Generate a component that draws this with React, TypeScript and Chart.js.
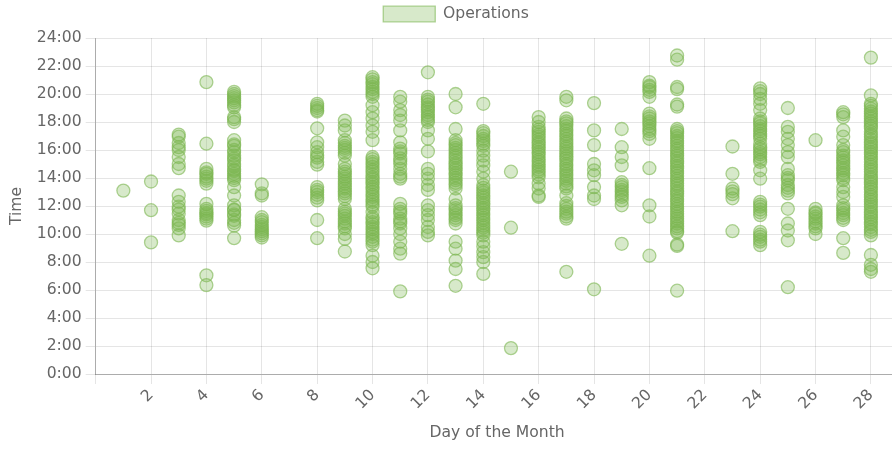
import React, { useEffect, useRef } from "react";
import { Chart, registerables } from "chart.js";

Chart.register(...registerables);

const seriesLabel = "Operations";
const xTitle = "Day of the Month";
const yTitle = "Time";

const day01 = [13.1];
const day02 = [13.75, 11.7, 9.4];
const day03 = [17.1, 16.95, 16.5, 16.2, 16.0, 15.5, 15.0, 14.7, 12.75, 12.3, 11.95, 11.75, 11.45, 11.0, 10.8, 10.65, 10.4, 9.9];
const day04 = [20.85, 16.45, 14.65, 14.4, 14.3, 14.1, 13.95, 13.8, 13.6, 12.15, 11.8, 11.65, 11.5, 11.4, 11.25, 11.1, 10.95, 7.05, 6.35];
const day05 = [20.15, 20.0, 19.85, 19.7, 19.55, 19.4, 19.2, 19.05, 18.35, 18.2, 18.0, 16.7, 16.4, 16.3, 16.0, 15.85, 15.6, 15.4, 15.25, 15.0, 14.85, 14.6, 14.5, 14.3, 14.15, 14.0, 13.85, 13.35, 12.75, 12.05, 11.75, 11.7, 11.4, 11.3, 11.0, 10.8, 10.6, 9.7];
const day06 = [13.55, 12.9, 12.75, 11.2, 11.0, 10.85, 10.65, 10.5, 10.35, 10.2, 10.05, 9.9, 9.75];
const day08 = [19.3, 19.15, 19.0, 18.85, 18.75, 17.55, 16.55, 16.2, 15.85, 15.6, 15.45, 15.15, 14.95, 13.35, 13.15, 13.0, 12.8, 12.6, 12.4, 11.0, 9.7];
const day09 = [18.1, 17.75, 17.4, 16.7, 16.5, 16.3, 16.15, 16.0, 15.8, 15.6, 15.0, 14.65, 14.45, 14.3, 14.1, 13.95, 13.75, 13.6, 13.4, 13.25, 13.05, 12.9, 12.7, 12.5, 11.8, 11.6, 11.45, 11.3, 11.1, 10.9, 10.75, 10.55, 10.4, 10.0, 9.65, 8.75];
const day10 = [21.2, 21.05, 20.85, 20.7, 20.5, 20.35, 20.15, 20.0, 19.8, 19.2, 18.7, 18.25, 17.75, 17.3, 16.7, 15.5, 15.35, 15.15, 15.0, 14.8, 14.6, 14.45, 14.25, 14.05, 13.9, 13.7, 13.55, 13.35, 13.2, 13.0, 12.8, 12.65, 12.45, 12.3, 12.1, 11.95, 11.55, 11.2, 11.05, 10.85, 10.7, 10.5, 10.35, 10.15, 10.0, 9.8, 9.6, 9.45, 9.2, 8.45, 8.0, 7.55];
const day11 = [19.8, 19.45, 18.85, 18.5, 18.1, 17.4, 16.55, 16.1, 15.9, 15.75, 15.4, 15.2, 15.0, 14.65, 14.3, 14.1, 13.95, 12.15, 11.8, 11.6, 11.45, 11.1, 10.9, 10.75, 10.4, 10.0, 9.45, 8.95, 8.6, 5.9];
const day12 = [21.55, 19.8, 19.6, 19.45, 19.25, 19.05, 18.9, 18.7, 18.5, 18.35, 18.15, 18.0, 17.4, 16.8, 15.9, 14.65, 14.3, 13.95, 13.5, 13.15, 12.05, 11.7, 11.35, 11.0, 10.5, 10.15, 9.9];
const day13 = [20.0, 19.05, 17.5, 16.7, 16.5, 16.35, 16.15, 16.0, 15.8, 15.6, 15.45, 15.25, 15.05, 14.9, 14.7, 14.55, 14.35, 14.2, 14.0, 13.85, 13.65, 13.5, 13.25, 12.5, 12.05, 11.85, 11.7, 11.5, 11.35, 11.15, 11.0, 10.75, 9.45, 8.95, 8.1, 7.5, 6.3];
const day14 = [19.3, 17.35, 17.2, 17.0, 16.8, 16.65, 16.45, 16.3, 15.95, 15.6, 15.25, 14.9, 14.45, 13.95, 13.5, 13.3, 13.1, 12.95, 12.75, 12.6, 12.4, 12.2, 12.05, 11.85, 11.7, 11.5, 11.35, 11.15, 11.0, 10.8, 10.6, 10.45, 10.25, 10.1, 9.9, 9.45, 9.1, 8.7, 8.35, 8.0, 7.15];
const day15 = [14.45, 10.45, 1.85];
const day16 = [18.35, 18.0, 17.65, 17.45, 17.3, 17.1, 16.95, 16.75, 16.55, 16.4, 16.2, 16.05, 15.85, 15.7, 15.5, 15.3, 15.15, 14.95, 14.8, 14.6, 14.45, 14.25, 14.05, 13.6, 13.25, 12.75, 12.65];
const day17 = [19.8, 19.55, 18.25, 18.05, 17.9, 17.7, 17.5, 17.35, 17.15, 17.0, 16.8, 16.6, 16.45, 16.25, 16.1, 15.9, 15.75, 15.55, 15.4, 15.2, 15.0, 14.85, 14.65, 14.5, 14.3, 14.15, 13.95, 13.8, 13.6, 13.4, 13.25, 12.75, 12.2, 12.0, 11.8, 11.6, 11.45, 11.25, 11.1, 7.3];
const day18 = [19.35, 17.4, 16.35, 15.0, 14.55, 14.2, 13.35, 12.75, 12.5, 6.05];
const day19 = [17.5, 16.2, 15.5, 14.9, 13.7, 13.5, 13.35, 13.15, 13.0, 12.8, 12.65, 12.4, 12.05, 9.3];
const day20 = [20.85, 20.6, 20.5, 20.3, 20.15, 19.8, 18.6, 18.4, 18.25, 18.05, 17.9, 17.7, 17.5, 17.35, 17.15, 16.8, 14.7, 12.05, 11.25, 8.45];
const day21 = [22.75, 22.45, 20.5, 20.35, 19.25, 19.1, 17.5, 17.35, 17.2, 17.0, 16.85, 16.65, 16.5, 16.3, 16.1, 15.95, 15.75, 15.6, 15.4, 15.2, 15.05, 14.85, 14.7, 14.5, 14.35, 14.15, 13.95, 13.8, 13.6, 13.45, 13.25, 13.05, 12.9, 12.7, 12.5, 12.35, 12.15, 11.95, 11.8, 11.6, 11.45, 11.25, 11.1, 10.9, 10.75, 10.55, 10.4, 10.2, 10.1, 9.25, 9.15, 5.95];
const day23 = [16.25, 14.3, 13.25, 13.05, 12.85, 12.55, 10.2];
const day24 = [20.4, 20.2, 20.0, 19.65, 19.3, 18.85, 18.25, 18.05, 17.9, 17.7, 17.5, 17.35, 17.15, 17.0, 16.8, 16.45, 16.2, 16.05, 15.85, 15.7, 15.5, 15.3, 15.15, 14.55, 13.95, 12.3, 12.1, 11.95, 11.75, 11.55, 11.35, 10.15, 9.95, 9.8, 9.6, 9.45, 9.2];
const day25 = [19.0, 17.65, 17.3, 16.8, 16.35, 15.85, 15.5, 14.65, 14.2, 14.0, 13.85, 13.5, 13.3, 13.1, 12.9, 11.8, 10.75, 10.25, 9.55, 6.2];
const day26 = [16.7, 11.8, 11.55, 11.45, 11.25, 11.1, 10.9, 10.75, 10.55, 10.4, 10.0];
const day27 = [18.7, 18.55, 18.35, 17.4, 16.95, 16.35, 16.0, 15.85, 15.6, 15.45, 15.25, 15.1, 14.9, 14.7, 14.55, 14.35, 14.2, 14.0, 13.85, 13.35, 13.0, 12.65, 12.05, 11.85, 11.7, 11.5, 11.35, 11.15, 11.0, 9.7, 8.65];
const day28 = [22.6, 19.9, 19.3, 19.15, 18.95, 18.75, 18.6, 18.4, 18.25, 18.05, 17.9, 17.7, 17.55, 17.3, 17.1, 16.95, 16.75, 16.55, 16.4, 16.2, 16.05, 15.85, 15.7, 15.5, 15.35, 15.15, 14.95, 14.8, 14.6, 14.45, 14.25, 14.05, 13.9, 13.7, 13.55, 13.35, 13.2, 13.0, 12.8, 12.65, 12.45, 12.3, 12.1, 11.95, 11.75, 11.55, 11.4, 11.2, 11.05, 10.85, 10.7, 10.5, 10.3, 10.15, 9.9, 8.5, 7.8, 7.5, 7.3];

const days = [1, 2, 3, 4, 5, 6, 8, 9, 10, 11, 12, 13, 14, 15, 16, 17, 18, 19, 20, 21, 23, 24, 25, 26, 27, 28];
const timesByDay = [day01, day02, day03, day04, day05, day06, day08, day09, day10, day11, day12, day13, day14, day15, day16, day17, day18, day19, day20, day21, day23, day24, day25, day26, day27, day28];

const legendSpacing = {
  id: "legendSpacing",
  beforeInit(chart: any) {
    const legend = chart.legend;
    if (!legend) return;
    const origFit = legend.fit;
    legend.fit = function () {
      origFit.call(this);
      this.height += 6.2;
    };
  },
  afterLayout(chart: any) {
    const legend = chart.legend;
    if (!legend) return;
    legend.left += 6.7;
    legend.right += 6.7;
  },
};

export default function App() {
  const ref = useRef<HTMLCanvasElement | null>(null);

  useEffect(() => {
    document.body.style.margin = "0";
    document.body.style.overflow = "hidden";
    if (!ref.current) return;
    const points: { x: number; y: number }[] = [];
    days.forEach((d, i) => {
      timesByDay[i].forEach((t) => points.push({ x: d, y: t }));
    });
    const S = 1.3;
    Chart.defaults.font.family = "'DejaVu Sans', sans-serif";
    Chart.defaults.font.size = 12 * S;
    Chart.defaults.color = "#666";
    const chart = new Chart(ref.current, {
      type: "scatter",
      data: {
        datasets: [
          {
            label: seriesLabel,
            data: points,
            backgroundColor: "rgba(124, 181, 80, 0.3)",
            borderColor: "rgba(124, 181, 80, 0.6)",
            borderWidth: 1.3,
            pointRadius: 6.5,
            pointHoverRadius: 6.5,
          },
        ],
      },
      plugins: [legendSpacing],
      options: {
        animation: false,
        responsive: true,
        maintainAspectRatio: false,
        layout: { padding: { right: 17.4 } },
        plugins: {
          legend: {
            display: true,
            position: "top",
            labels: { boxWidth: 52, boxHeight: 15.6, padding: 6.2 },
          },
          tooltip: { enabled: false },
        },
        scales: {
          x: {
            type: "linear",
            min: 0,
            max: 29,
            title: { display: true, text: xTitle, padding: { top: 8, bottom: 7 } },
            grid: { color: "rgba(0,0,0,0.1)", tickLength: 10 },
            border: { color: "rgba(0,0,0,0.25)" },
            ticks: {
              stepSize: 2,
              includeBounds: false,
              minRotation: 45,
              maxRotation: 45,
              padding: 2,
              callback: (v: any) => (Number(v) === 0 ? "" : String(v)),
            },
          },
          y: {
            type: "linear",
            min: 0,
            max: 24,
            title: { display: true, text: yTitle, padding: { top: 8, bottom: 6 } },
            grid: { color: "rgba(0,0,0,0.1)", tickLength: 10 },
            border: { color: "rgba(0,0,0,0.25)" },
            ticks: {
              stepSize: 2,
              padding: 4,
              callback: (v: any) => `${v}:00`,
            },
          },
        },
      },
    });
    return () => chart.destroy();
  }, []);

  return (
    <div style={{ width: "892px", height: "449px", overflow: "hidden" }}>
      <div style={{ position: "relative", width: "916px", height: "449px" }}>
        <canvas ref={ref} />
      </div>
    </div>
  );
}
